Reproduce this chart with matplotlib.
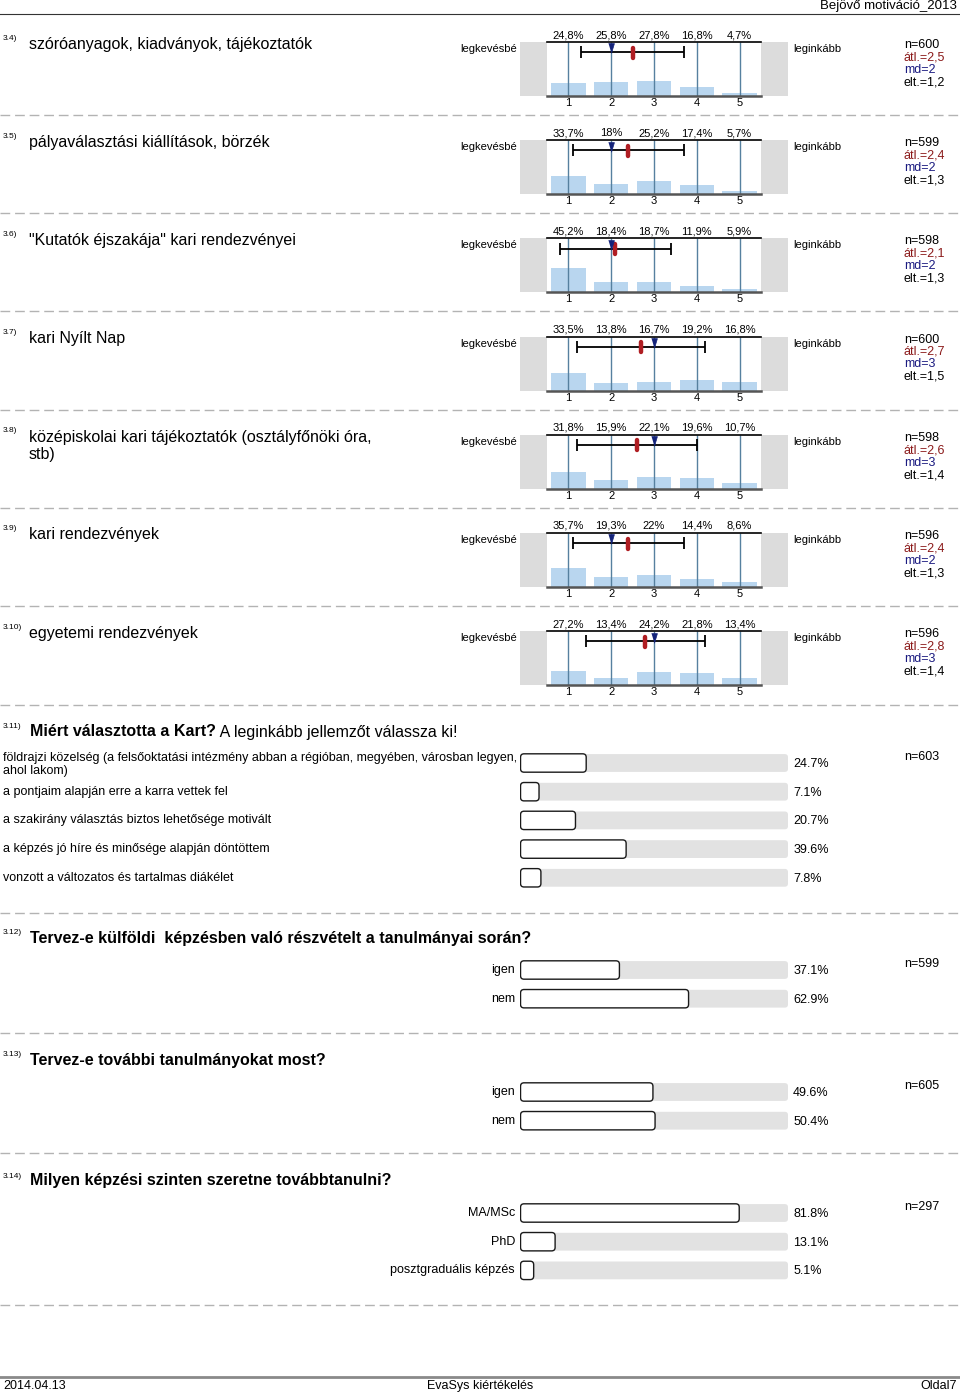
import matplotlib
matplotlib.use('Agg')
import matplotlib.pyplot as plt
from matplotlib.patches import Rectangle, FancyBboxPatch
from matplotlib.markers import MarkerStyle
from matplotlib import transforms

plt.rcParams['font.family'] = ['Liberation Sans', 'DejaVu Sans']

W, H = 960, 1395

# ---------------- data ----------------
scale_ids = ["3.4)", "3.5)", "3.6)", "3.7)", "3.8)", "3.9)", "3.10)"]
scale_titles = [
    "szóróanyagok, kiadványok, tájékoztatók",
    "pályaválasztási kiállítások, börzék",
    "\"Kutatók éjszakája\" kari rendezvényei",
    "kari Nyílt Nap",
    "középiskolai kari tájékoztatók (osztályfőnöki óra,\nstb)",
    "kari rendezvények",
    "egyetemi rendezvények",
]
scale_ticks = [1, 2, 3, 4, 5]
scale_pct = [
    [24.8, 25.8, 27.8, 16.8, 4.7],
    [33.7, 18.0, 25.2, 17.4, 5.7],
    [45.2, 18.4, 18.7, 11.9, 5.9],
    [33.5, 13.8, 16.7, 19.2, 16.8],
    [31.8, 15.9, 22.1, 19.6, 10.7],
    [35.7, 19.3, 22.0, 14.4, 8.6],
    [27.2, 13.4, 24.2, 21.8, 13.4],
]
scale_n = [600, 599, 598, 600, 598, 596, 596]
scale_mean = [2.5, 2.4, 2.1, 2.7, 2.6, 2.4, 2.8]
scale_md = [2, 2, 2, 3, 3, 2, 3]
scale_sd = [1.2, 1.3, 1.3, 1.5, 1.4, 1.3, 1.4]
scale_left = "legkevésbé"
scale_right = "leginkább"

q11_labels = [
    "földrajzi közelség (a felsőoktatási intézmény abban a régióban, megyében, városban legyen,\nahol lakom)",
    "a pontjaim alapján erre a karra vettek fel",
    "a szakirány választás biztos lehetősége motivált",
    "a képzés jó híre és minősége alapján döntöttem",
    "vonzott a változatos és tartalmas diákélet",
]
q11_pct = [24.7, 7.1, 20.7, 39.6, 7.8]
q11_n = 603

q12_labels = ["igen", "nem"]
q12_pct = [37.1, 62.9]
q12_n = 599

q13_labels = ["igen", "nem"]
q13_pct = [49.6, 50.4]
q13_n = 605

q14_labels = ["MA/MSc", "PhD", "posztgraduális képzés"]
q14_pct = [81.8, 13.1, 5.1]
q14_n = 297


def hu(v):
    return f"{v:g}".replace('.', ',')


# ---------------- figure ----------------
fig = plt.figure(figsize=(W / 100, H / 100), dpi=100)
ax0 = fig.add_axes([0, 0, 1, 1], zorder=0)
ax0.set_xlim(0, W)
ax0.set_ylim(H, 0)
ax0.axis('off')


def px_axes(x0, y0, x1, y1, z=2):
    return fig.add_axes([x0 / W, 1 - y1 / H, (x1 - x0) / W, (y1 - y0) / H], zorder=z)


# header
ax0.text(957, 6, "Bejövő motiváció_2013", ha='right', va='center', fontsize=9.5)
ax0.plot([0, W], [14, 14], color='#333333', lw=0.8)

# separators
for y in [115, 213, 311, 410, 508, 606, 705, 913, 1033, 1153, 1305]:
    ax0.plot([0, W], [y, y], color='#b3b3b3', lw=1, ls=(0, (7, 3.5)))

# footer
ax0.plot([0, W], [1377, 1377], color='#8a8a8a', lw=2)
ax0.text(3, 1386, "2014.04.13", ha='left', va='center', fontsize=9)
ax0.text(480, 1386, "EvaSys kiértékelés", ha='center', va='center', fontsize=9)
ax0.text(957, 1386, "Oldal7", ha='right', va='center', fontsize=9)

tri = [(-0.6, 1), (0.6, 1), (0, -1)]
pill = MarkerStyle('|', capstyle='round')

# ---------------- scale sections ----------------
for k in range(len(scale_ids)):
    top = 42 + k * 98.2
    hgt = 54
    bot = top + hgt
    ax0.text(3, top - 4, scale_ids[k], fontsize=6, va='center', ha='left')
    if '\n' in scale_titles[k]:
        ax0.text(29, top - 5, scale_titles[k], fontsize=11.5, va='top', ha='left',
                 linespacing=1.2)
    else:
        ax0.text(29, top + 2, scale_titles[k], fontsize=11.5, va='center', ha='left')
    ax0.text(460, top + 7, scale_left, fontsize=8, va='center', ha='left')
    ax0.text(793, top + 7, scale_right, fontsize=8, va='center', ha='left')
    ax0.add_patch(Rectangle((520, top), 27, hgt, fc='#dcdcdc', ec='none'))
    ax0.add_patch(Rectangle((761, top), 27, hgt, fc='#dcdcdc', ec='none'))
    stats = [(f"n={scale_n[k]}", 'black'),
             (f"átl.={hu(scale_mean[k])}", '#8b1a1a'),
             (f"md={hu(scale_md[k])}", '#1a1a80'),
             (f"elt.={hu(scale_sd[k])}", 'black')]
    for j, (s, c) in enumerate(stats):
        ax0.text(904, top + 3 + j * 12.4, s, fontsize=9, color=c, va='center', ha='left')

    ax = px_axes(547, top, 761, bot)
    ax.set_xlim(0.5, 5.5)
    ax.set_ylim(0, 100)
    ax.bar(scale_ticks, scale_pct[k], width=0.8, color='#b9d6ef', zorder=1)
    ax.vlines(scale_ticks, 0, 100, color='#56809f', lw=1, zorder=2)
    ax.errorbar(scale_mean[k], 81, xerr=scale_sd[k], fmt='none', ecolor='black',
                elinewidth=1.3, capsize=4, capthick=1.3, zorder=3)
    ax.plot(scale_mean[k], 80.5, marker=pill, ms=7, mew=3.2, color='#b01e23', zorder=4)
    ax.plot(scale_md[k], 88, marker=tri, ms=7, color='#14237a', mec='#14237a', mew=0.5,
            zorder=5)
    for i, v in zip(scale_ticks, scale_pct[k]):
        ax.text(i, 100 + 7 / hgt * 100, hu(v) + '%', ha='center', va='center', fontsize=8,
                clip_on=False)
    ax.set_xticks(scale_ticks)
    ax.set_xticklabels([str(t) for t in scale_ticks])
    ax.tick_params(axis='x', length=0, pad=1.5, labelsize=8)
    ax.set_yticks([])
    ax.spines['left'].set_visible(False)
    ax.spines['right'].set_visible(False)
    ax.spines['top'].set_color('black')
    ax.spines['top'].set_linewidth(1.2)
    ax.spines['bottom'].set_color('#555555')
    ax.spines['bottom'].set_linewidth(1.8)


# ---------------- bar sections ----------------
STEP = 28.7


def bar_section(labels, pcts, n, first_y, left_labels):
    nr = len(pcts)
    top = first_y - STEP / 2
    bot = top + nr * STEP
    ax = px_axes(520, top, 788, bot)
    ax.set_xlim(0, 100)
    ax.set_ylim(nr - 0.5, -0.5)
    ax.axis('off')
    asp = (1 / STEP) / (100 / 268)
    for i, v in enumerate(pcts):
        ax.add_patch(FancyBboxPatch((0, i - 0.31), 100, 0.62,
                                    boxstyle='round,pad=0,rounding_size=1.2',
                                    mutation_aspect=asp, fc='#e2e2e2', ec='none', zorder=1))
        ax.add_patch(FancyBboxPatch((0.2, i - 0.32), v - 0.2, 0.64,
                                    boxstyle='round,pad=0,rounding_size=1.3',
                                    mutation_aspect=asp, fc='white', ec='#1a1a1a', lw=1,
                                    zorder=2))
        ax.text(101.9, i + 0.03, f"{v:.1f}%", fontsize=9, va='center', ha='left',
                clip_on=False)
    tr = transforms.blended_transform_factory(ax0.transData, ax.transData)
    for i, lab in enumerate(labels):
        if left_labels:
            off = 0.05 if '\n' in lab else 0.0
            ax.text(3, i + off, lab, transform=tr, fontsize=9, va='center', ha='left',
                    linespacing=1.12, clip_on=False)
        else:
            ax.text(515, i, lab, transform=tr, fontsize=9, va='center', ha='right',
                    clip_on=False)
    ax0.text(904, first_y - 6, f"n={n}", fontsize=9, va='center', ha='left')


# 3.11
ax0.text(3, 727, "3.11)", fontsize=6, va='center', ha='left')
t1 = ax0.text(30, 732, "Miért választotta a Kart?", fontsize=11.5, fontweight='bold',
              va='center', ha='left')
ax0.annotate(" A leginkább jellemzőt válassza ki!", xy=(1, 0), xycoords=t1,
             va='bottom', ha='left', fontsize=11.5)
bar_section(q11_labels, q11_pct, q11_n, 763, True)

# 3.12
ax0.text(3, 933, "3.12)", fontsize=6, va='center', ha='left')
ax0.text(30, 938, "Tervez-e külföldi  képzésben való részvételt a tanulmányai során?",
         fontsize=11.5, fontweight='bold', va='center', ha='left')
bar_section(q12_labels, q12_pct, q12_n, 970, False)

# 3.13
ax0.text(3, 1055, "3.13)", fontsize=6, va='center', ha='left')
ax0.text(30, 1060, "Tervez-e további tanulmányokat most?",
         fontsize=11.5, fontweight='bold', va='center', ha='left')
bar_section(q13_labels, q13_pct, q13_n, 1092, False)

# 3.14
ax0.text(3, 1176, "3.14)", fontsize=6, va='center', ha='left')
ax0.text(30, 1181, "Milyen képzési szinten szeretne továbbtanulni?",
         fontsize=11.5, fontweight='bold', va='center', ha='left')
bar_section(q14_labels, q14_pct, q14_n, 1213, False)

fig.savefig("out.png", dpi=100)
